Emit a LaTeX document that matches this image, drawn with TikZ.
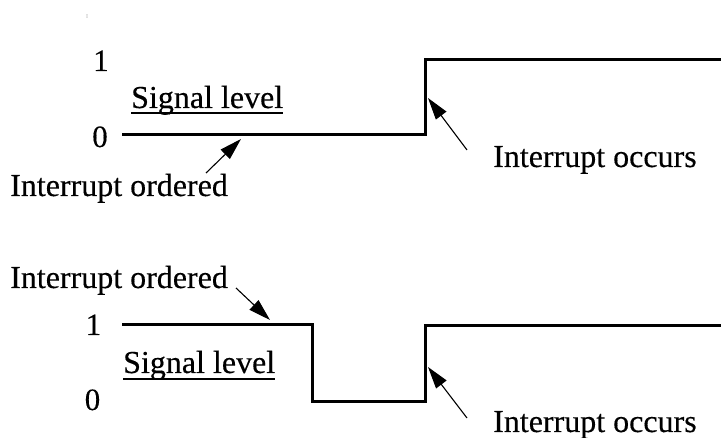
\documentclass[tikz,border=0pt]{standalone}
\usepackage{fontspec}
\setmainfont{Liberation Serif}[FakeBold=0.35]
\usetikzlibrary{arrows.meta}
\begin{document}
\begin{tikzpicture}[x=1pt,y=-1pt,
  signal/.style={line width=3pt,line join=miter,line cap=butt},
  pointer/.style={line width=1.1pt,-{Triangle[length=22pt,width=13pt]}},
  label/.style={inner sep=0pt,anchor=base west,font=\fontsize{32}{36}\selectfont},
  digit/.style={inner sep=0pt,anchor=base,font=\fontsize{31}{35}\selectfont},
  rule/.style={line width=1.6pt}]
\useasboundingbox (0,0) rectangle (721,438);

% stray tick mark near the top
\node[inner sep=0pt,font=\fontsize{6}{7}\selectfont,text=black!60] (tick) at (87,16) {:};

% ---------- upper timing diagram ----------
\node[digit] (one1) at (101,71) {1};
\node[digit] (zero1) at (100,147) {0};
\node[label] (sig1) at (131,108) {Signal level};
\draw[rule] ([yshift=-5pt]sig1.base west) -- ([yshift=-5pt]sig1.base east);

\coordinate (a0) at (122,135);
\coordinate (a1) at (425,135);
\coordinate (a2) at (425,60);
\coordinate (a3) at (721,60);
\draw[signal] (a0) -- (a1) -- (a2) -- (a3);

\node[label] (ord1) at (10,196) {Interrupt ordered};
\coordinate (ord1tail) at (206,173);
\coordinate (ord1tip) at (241,139);
\draw[pointer] (ord1tail) -- (ord1tip);

\node[label] (occ1) at (493,167) {Interrupt occurs};
\coordinate (occ1tail) at (467,150);
\coordinate (occ1tip) at (428,98);
\draw[pointer] (occ1tail) -- (occ1tip);

% ---------- lower timing diagram ----------
\node[digit] (one2) at (93.5,335) {1};
\node[digit] (zero2) at (92.5,410) {0};
\node[label] (sig2) at (123,373) {Signal level};
\draw[rule] ([yshift=-6pt]sig2.base west) -- ([yshift=-6pt]sig2.base east);

\coordinate (b0) at (122,325);
\coordinate (b1) at (312,325);
\coordinate (b2) at (312,402);
\coordinate (b3) at (425,402);
\coordinate (b4) at (425,326);
\coordinate (b5) at (721,326);
\draw[signal] (b0) -- (b1) -- (b2) -- (b3) -- (b4) -- (b5);

\node[label] (ord2) at (10,288) {Interrupt ordered};
\coordinate (ord2tail) at (236,288);
\coordinate (ord2tip) at (270,320);
\draw[pointer] (ord2tail) -- (ord2tip);

\node[label] (occ2) at (493,432) {Interrupt occurs};
\coordinate (occ2tail) at (467,418);
\coordinate (occ2tip) at (428,367);
\draw[pointer] (occ2tail) -- (occ2tip);
\end{tikzpicture}
\end{document}
